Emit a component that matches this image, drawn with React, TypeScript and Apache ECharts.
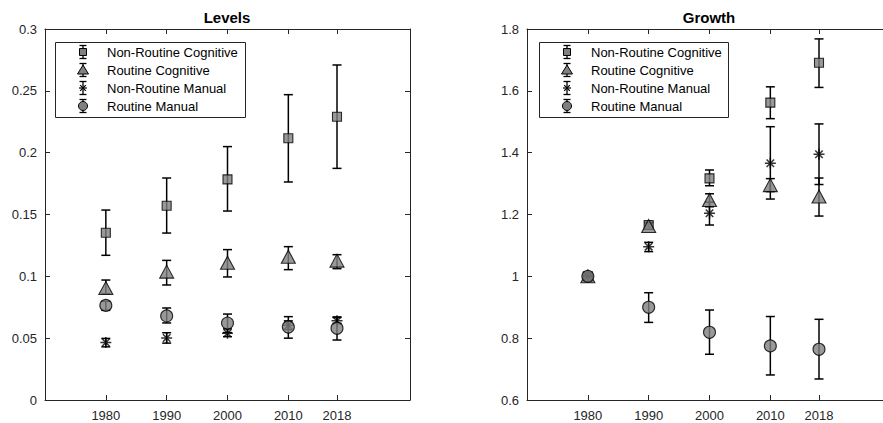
import React, { useEffect, useRef } from "react";
import * as echarts from "echarts";

// ---------- data ----------
const years = [1980, 1990, 2000, 2010, 2018];
const seriesNames = [
  "Non-Routine Cognitive",
  "Routine Cognitive",
  "Non-Routine Manual",
  "Routine Manual",
];
const levelTicks = [0, 0.05, 0.1, 0.15, 0.2, 0.25, 0.3];
const growthTicks = [0.6, 0.8, 1, 1.2, 1.4, 1.6, 1.8];

// Levels panel
const levNRC = [0.1353, 0.1571, 0.1784, 0.2116, 0.2291];
const levNRCLo = [0.117, 0.135, 0.1528, 0.1763, 0.1873];
const levNRCHi = [0.1536, 0.1795, 0.2049, 0.2469, 0.2709];
const levRC = [0.0905, 0.1038, 0.111, 0.1159, 0.1127];
const levRCLo = [0.086, 0.093, 0.0995, 0.1054, 0.1062];
const levRCHi = [0.097, 0.1129, 0.1216, 0.124, 0.1175];
const levNRM = [0.0465, 0.0501, 0.054, 0.0605, 0.064];
const levNRMLo = [0.043, 0.046, 0.0512, 0.057, 0.062];
const levNRMHi = [0.0498, 0.0544, 0.0575, 0.064, 0.0667];
const levRM = [0.0765, 0.068, 0.0622, 0.059, 0.058];
const levRMLo = [0.0725, 0.0623, 0.0545, 0.05, 0.0485];
const levRMHi = [0.0798, 0.0744, 0.0695, 0.0674, 0.0672];

// Growth panel
const groNRC = [1.0, 1.166, 1.317, 1.562, 1.691];
const groNRCLo = [0.996, 1.155, 1.293, 1.51, 1.611];
const groNRCHi = [1.004, 1.175, 1.344, 1.613, 1.768];
const groRC = [1.0, 1.163, 1.247, 1.295, 1.258];
const groRCLo = [0.996, 1.153, 1.225, 1.274, 1.195];
const groRCHi = [1.004, 1.173, 1.267, 1.316, 1.318];
const groNRM = [1.0, 1.096, 1.204, 1.366, 1.395];
const groNRMLo = [0.998, 1.08, 1.166, 1.25, 1.297];
const groNRMHi = [1.002, 1.11, 1.24, 1.484, 1.493];
const groRM = [1.0, 0.9, 0.819, 0.775, 0.764];
const groRMLo = [0.998, 0.851, 0.748, 0.681, 0.668];
const groRMHi = [1.002, 0.947, 0.891, 0.87, 0.861];

// ---------- styling ----------
const FONT = "'Liberation Sans', Arial, Helvetica, sans-serif";
const AXIS_COLOR = "#262626";
const FILL = "#808080";
const ASTERISK =
  "path://M5,0L5,10M0,5L10,5M1.6,1.6L8.4,8.4M1.6,8.4L8.4,1.6";

const markerDefs = [
  { symbol: "rect", size: 9 as any },
  { symbol: "triangle", size: [14, 13] as any },
  { symbol: ASTERISK, size: 11 as any },
  { symbol: "circle", size: 12 as any },
];

function errorSeries(name: string, lo: number[], hi: number[], axis: number) {
  return {
    type: "custom",
    name: name + " err",
    coordinateSystem: "cartesian2d",
    xAxisIndex: axis,
    yAxisIndex: axis,
    silent: true,
    data: years.map((y, i) => [y, lo[i], hi[i]]),
    encode: { x: 0, y: [1, 2] },
    renderItem: (_p: any, api: any) => {
      const x = api.value(0);
      const a = api.coord([x, api.value(2)]);
      const b = api.coord([x, api.value(1)]);
      const w = 4.5;
      const st = { stroke: "#000", lineWidth: 1.5 };
      return {
        type: "group",
        children: [
          { type: "line", shape: { x1: a[0], y1: a[1], x2: b[0], y2: b[1] }, style: st },
          { type: "line", shape: { x1: a[0] - w, y1: a[1], x2: a[0] + w, y2: a[1] }, style: st },
          { type: "line", shape: { x1: b[0] - w, y1: b[1], x2: b[0] + w, y2: b[1] }, style: st },
        ],
      };
    },
  };
}

function markerSeries(idx: number, vals: number[], axis: number) {
  const def = markerDefs[idx];
  const isAst = idx === 2;
  return {
    type: "scatter",
    name: seriesNames[idx],
    xAxisIndex: axis,
    yAxisIndex: axis,
    symbol: def.symbol,
    symbolSize: def.size,
    data: years.map((y, i) => [y, vals[i]]),
    itemStyle: isAst
      ? { color: "rgba(0,0,0,0)", borderColor: "#000", borderWidth: 1.5 }
      : { color: FILL, borderColor: "#000", borderWidth: 1.1 },
  };
}

function legendGraphic(boxX: number, boxW: number) {
  const top = 42;
  const iconX = boxX + 28;
  const textX = boxX + 52;
  const children: any[] = [
    {
      type: "rect",
      shape: { x: boxX + 0.5, y: top + 0.5, width: boxW, height: 75 },
      style: { fill: "#fff", stroke: "#262626", lineWidth: 1 },
    },
  ];
  seriesNames.forEach((name, i) => {
    const cy = top + 10 + i * 18;
    const st = { stroke: "#000", lineWidth: 1.3 };
    children.push(
      { type: "line", shape: { x1: iconX, y1: cy - 6.5, x2: iconX, y2: cy + 6.5 }, style: st },
      { type: "line", shape: { x1: iconX - 3.5, y1: cy - 6.5, x2: iconX + 3.5, y2: cy - 6.5 }, style: st },
      { type: "line", shape: { x1: iconX - 3.5, y1: cy + 6.5, x2: iconX + 3.5, y2: cy + 6.5 }, style: st }
    );
    const ms = { fill: FILL, stroke: "#000", lineWidth: 1 };
    if (i === 0) {
      children.push({ type: "rect", shape: { x: iconX - 3.5, y: cy - 3.5, width: 7, height: 7 }, style: ms });
    } else if (i === 1) {
      children.push({
        type: "polygon",
        shape: { points: [[iconX, cy - 5], [iconX - 5.5, cy + 4], [iconX + 5.5, cy + 4]] },
        style: ms,
      });
    } else if (i === 2) {
      const r = 4;
      const d = 2.8;
      const s2 = { stroke: "#000", lineWidth: 1.2 };
      children.push(
        { type: "line", shape: { x1: iconX - r, y1: cy, x2: iconX + r, y2: cy }, style: s2 },
        { type: "line", shape: { x1: iconX - d, y1: cy - d, x2: iconX + d, y2: cy + d }, style: s2 },
        { type: "line", shape: { x1: iconX - d, y1: cy + d, x2: iconX + d, y2: cy - d }, style: s2 }
      );
    } else {
      children.push({ type: "circle", shape: { cx: iconX, cy, r: 4.5 }, style: ms });
    }
    children.push({
      type: "text",
      x: textX,
      y: cy,
      style: {
        text: name,
        font: `13px ${FONT}`,
        fill: "#000",
        verticalAlign: "middle",
        align: "left",
      },
    });
  });
  return { type: "group", children };
}

function xAxes(grid: number) {
  const common = {
    type: "value",
    gridIndex: grid,
    min: 1970,
    max: 2030,
    splitLine: { show: false },
    axisLine: { show: true, onZero: false, lineStyle: { color: AXIS_COLOR, width: 1 } },
    axisTick: { show: true, inside: true, length: 5, customValues: years, lineStyle: { color: AXIS_COLOR } },
  };
  return [
    {
      ...common,
      position: "bottom",
      axisLabel: {
        show: true,
        customValues: years,
        margin: 9,
        fontSize: 13,
        fontFamily: FONT,
        color: AXIS_COLOR,
        formatter: (v: number) => String(v),
      },
    },
    { ...common, position: "top", axisLabel: { show: false } },
  ];
}

function yAxes(grid: number, min: number, max: number, interval: number, ticks: number[]) {
  const common = {
    type: "value",
    gridIndex: grid,
    min,
    max,
    interval,
    splitLine: { show: false },
    axisLine: { show: true, onZero: false, lineStyle: { color: AXIS_COLOR, width: 1 } },
    axisTick: { show: true, inside: true, length: 5, lineStyle: { color: AXIS_COLOR } },
  };
  return [
    {
      ...common,
      position: "left",
      axisLabel: {
        show: true,
        margin: 8,
        fontSize: 13,
        fontFamily: FONT,
        color: AXIS_COLOR,
        formatter: (v: number) => {
          const m = ticks.find((t) => Math.abs(t - v) < 1e-9);
          return String(m !== undefined ? m : v);
        },
      },
    },
    { ...common, position: "right", axisLabel: { show: false } },
  ];
}

export default function App() {
  const ref = useRef<HTMLDivElement>(null);
  useEffect(() => {
    if (!ref.current) return;
    const chart = echarts.init(ref.current, null, { renderer: "svg" });
    const levels = [
      [levNRC, levNRCLo, levNRCHi],
      [levRC, levRCLo, levRCHi],
      [levNRM, levNRMLo, levNRMHi],
      [levRM, levRMLo, levRMHi],
    ];
    const growth = [
      [groNRC, groNRCLo, groNRCHi],
      [groRC, groRCLo, groRCHi],
      [groNRM, groNRMLo, groNRMHi],
      [groRM, groRMLo, groRMHi],
    ];
    const series: any[] = [];
    levels.forEach((s, i) => {
      series.push(errorSeries(seriesNames[i], s[1], s[2], 0));
      series.push(markerSeries(i, s[0], 0));
    });
    growth.forEach((s, i) => {
      series.push(errorSeries(seriesNames[i], s[1], s[2], 2));
      series.push(markerSeries(i, s[0], 2));
    });
    chart.setOption({
      animation: false,
      backgroundColor: "#fff",
      grid: [
        { left: 45, top: 29, width: 365, height: 371, outerBoundsMode: "none", containLabel: false },
        { left: 527, top: 29, width: 365, height: 371, outerBoundsMode: "none", containLabel: false },
      ],
      xAxis: [...xAxes(0), ...xAxes(1)],
      yAxis: [
        ...yAxes(0, 0, 0.3, 0.05, levelTicks),
        ...yAxes(1, 0.6, 1.8, 0.2, growthTicks),
      ],
      series,
      graphic: [
        {
          type: "text",
          x: 227,
          y: 17,
          style: { text: "Levels", font: `bold 15px ${FONT}`, fill: "#000", align: "center", verticalAlign: "middle" },
        },
        {
          type: "text",
          x: 709,
          y: 17,
          style: { text: "Growth", font: `bold 15px ${FONT}`, fill: "#000", align: "center", verticalAlign: "middle" },
        },
        legendGraphic(55, 190),
        legendGraphic(539, 189),
      ],
    });
    return () => chart.dispose();
  }, []);
  return (
    <div
      ref={ref}
      style={{ position: "fixed", left: 0, top: 0, width: 883, height: 423, background: "#fff" }}
    />
  );
}
